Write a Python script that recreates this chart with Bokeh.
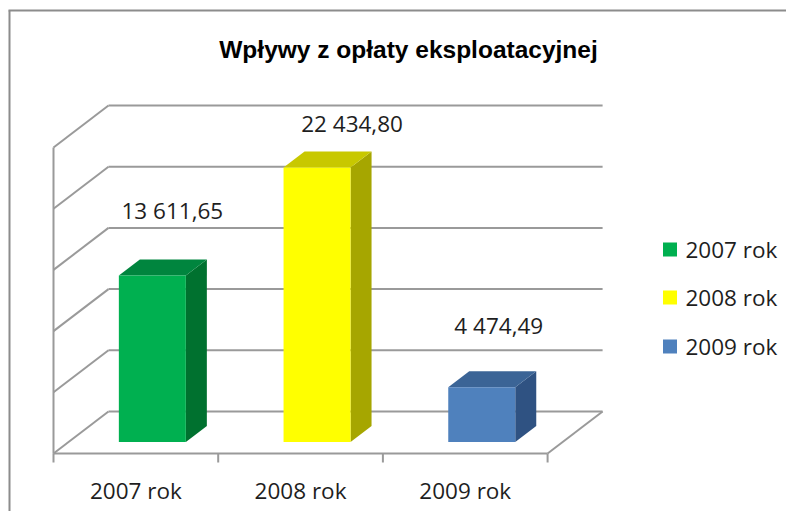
from bokeh.plotting import figure
from bokeh.models import Range1d, ColumnDataSource
from bokeh.core.properties import value
from bokeh.embed import file_html
from bokeh.resources import INLINE

# ---- data ----
categories = ["2007 rok", "2008 rok", "2009 rok"]
values = [13611.65, 22434.80, 4474.49]
value_labels = ["13 611,65", "22 434,80", "4 474,49"]
grid_values = [0, 5000, 10000, 15000, 20000, 25000]
title_text = "Wpływy z opłaty eksploatacyjnej"

# ---- styles ----
front_colors = ["#00b050", "#ffff00", "#4f81bd"]
top_colors = ["#00853e", "#c8c800", "#3b6496"]
side_colors = ["#00712f", "#a6a600", "#2f5282"]
label_dx = [20, 35, 17]      # screen px offsets of value labels from bar top
label_dy = [65, 44, 62]
GRID_COLOR = "#9a9a9a"
TEXT_COLOR = "#1e1e1e"
FONT = "Open Sans"
FS = "22.5px"

W, H = 786, 511
OX, OY = 0, 0
CAT_PX = 164.7
VAL_PX = 306 / 25000
FLOOR_LEFT_PX = 53
FLOOR_Y_PX = 453


def dx(px):
    return px / CAT_PX


def dv(px):
    return px / VAL_PX


x_lo = -0.5 - dx(FLOOR_LEFT_PX - OX)
x_hi = x_lo + dx(W)
y_lo = -dv(OY + H - FLOOR_Y_PX)
y_hi = y_lo + dv(H)


def page_x(px):
    return x_lo + dx(px - OX)


def page_y(py):
    return y_hi - dv(py - OY)


p = figure(width=W, height=H, x_range=Range1d(x_lo, x_hi), y_range=Range1d(y_lo, y_hi),
           output_backend="svg", toolbar_location=None, min_border=0,
           x_axis_location=None, y_axis_location=None)
p.grid.visible = False
p.outline_line_color = None
p.background_fill_color = "white"
p.border_fill_color = "white"

n = len(categories)
left, right = -0.5, n - 0.5
DX, DY = dx(55), dv(42)

# walls
xs, ys = [], []
for g in grid_values:
    xs.append([left + DX, right + DX]); ys.append([g + DY, g + DY])
    xs.append([left, left + DX]); ys.append([g, g + DY])
xs.append([left, left]); ys.append([grid_values[0], grid_values[-1]])
xs.append([left, right]); ys.append([0, 0])
xs.append([right, right + DX]); ys.append([0, DY])
for k in range(n + 1):
    xs.append([left + k, left + k]); ys.append([0, -dv(9)])
p.multi_line(xs, ys, line_color=GRID_COLOR, line_width=2)

# bars
BAR_SHIFT_X = dx(16.5)
BASE = dv(11.5)
HALF = dx(33.5)
BDX, BDY = dx(21), dv(16)
fx, fy, tx, ty, sx, sy = [], [], [], [], [], []
for i, v in enumerate(values):
    c = i + BAR_SHIFT_X
    x0, x1 = c - HALF, c + HALF
    b, t = BASE, BASE + v
    fx.append([x0, x1, x1, x0]); fy.append([b, b, t, t])
    tx.append([x0, x1, x1 + BDX, x0 + BDX]); ty.append([t, t, t + BDY, t + BDY])
    sx.append([x1, x1 + BDX, x1 + BDX, x1]); sy.append([b, b + BDY, t + BDY, t])
p.patches(sx, sy, fill_color=side_colors, line_color=None)
p.patches(tx, ty, fill_color=top_colors, line_color=None)
p.patches(fx, fy, fill_color=front_colors, line_color=None)

# value labels
lab = ColumnDataSource(dict(x=[i + BAR_SHIFT_X for i in range(n)],
                            y=[BASE + v for v in values],
                            text=value_labels, xo=label_dx, yo=[-d for d in label_dy]))
p.text(x="x", y="y", text="text", x_offset="xo", y_offset="yo", source=lab,
       text_font=value(FONT), text_font_size=FS, text_color=TEXT_COLOR,
       text_align="center", text_baseline="middle")

# category labels
p.text(x=list(range(n)), y=[0] * n, text=categories, y_offset=37,
       text_font=value(FONT), text_font_size=FS, text_color=TEXT_COLOR,
       text_align="center", text_baseline="middle")

# legend
leg_y = [249, 297, 346]
p.scatter(x=[page_x(669.5)] * n, y=[page_y(y) for y in leg_y], marker="square",
          size=14, fill_color=front_colors, line_color=None)
p.text(x=[page_x(685)] * n, y=[page_y(y) for y in leg_y], text=categories,
       text_font=value(FONT), text_font_size=FS, text_color=TEXT_COLOR,
       text_align="left", text_baseline="middle")

# title
p.text(x=[page_x(408)], y=[page_y(49)], text=[title_text],
       text_font=value("Liberation Sans"), text_font_style="bold",
       text_font_size="24.5px", text_color="black",
       text_align="center", text_baseline="middle")

# chart border (top and left visible)
p.multi_line([[page_x(8), page_x(W)], [page_x(9), page_x(9)]],
             [[page_y(10), page_y(10)], [page_y(10), page_y(H)]],
             line_color="#8c8c8c", line_width=2)

open("out.html", "w").write(file_html(p, INLINE))
